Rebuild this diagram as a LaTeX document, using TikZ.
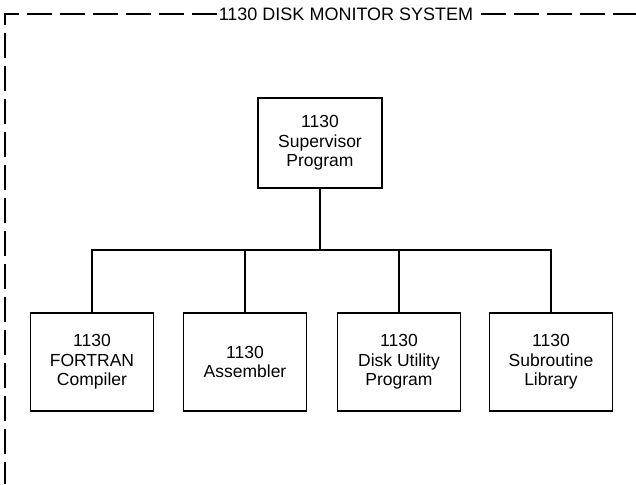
\documentclass[tikz,border=0pt]{standalone}
\usepackage{fontspec}
\setmainfont{Liberation Sans}
\begin{document}
\begin{tikzpicture}[x=1pt,y=-1pt,
  box/.style={draw,line width=1.8pt,minimum width=123pt,minimum height=98pt,align=center,inner sep=0pt,
    font=\fontsize{17.5}{19.5}\selectfont},
  conn/.style={line width=1.8pt},
  frame/.style={line width=1.7pt,dash pattern=on 25pt off 8pt}]
\useasboundingbox (0,0) rectangle (636,484);
\node[box,minimum width=124pt,minimum height=90pt] (sup) at (320,143) {1130\\Supervisor\\Program};
\node[box] (b1) at (92,362) {1130\\FORTRAN\\Compiler};
\node[box] (b2) at (245,362) {1130\\Assembler};
\node[box] (b3) at (399,362) {1130\\Disk Utility\\Program};
\node[box] (b4) at (551,362) {1130\\Subroutine\\Library};
\coordinate (bus) at (320,250);
\node[font=\fontsize{18}{20}\selectfont,inner sep=2pt] (title) at (346,14) {1130 DISK MONITOR SYSTEM};
\coordinate (tl) at (5,14);
\coordinate (bl) at (5,484);
\coordinate (tr) at (636,14);
\draw[frame] (title.west |- tl) -- (tl) -- (bl);
\draw[frame] ([xshift=6pt]title.east |- tl) -- (tr);
\draw[conn] (sup.south) -- (bus);
\draw[conn] (b1.north) -- (b1.north |- bus) -- (b4.north |- bus) -- (b4.north);
\draw[conn] (b2.north) -- (b2.north |- bus);
\draw[conn] (b3.north) -- (b3.north |- bus);
\end{tikzpicture}
\end{document}
